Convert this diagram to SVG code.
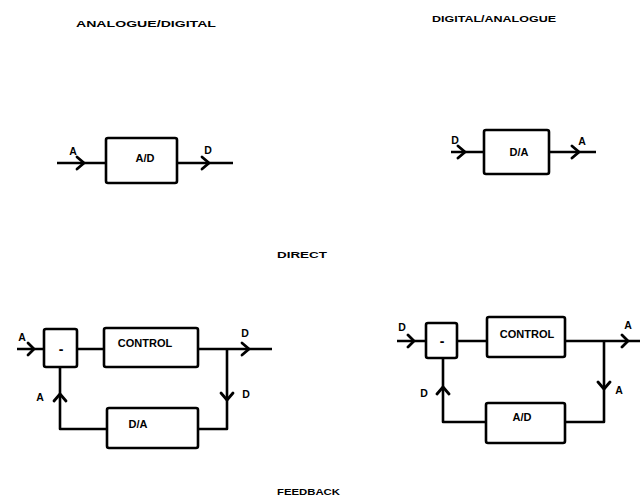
<svg xmlns="http://www.w3.org/2000/svg" width="644" height="500" viewBox="0 0 644 500">
<style>
.box{fill:#fff;stroke:#000;stroke-width:2.6}
.ln{fill:none;stroke:#000;stroke-width:2.6;stroke-linejoin:round}
.hd{fill:none;stroke:#000;stroke-width:2.8;stroke-linecap:round;stroke-linejoin:miter}
text{font-family:"Liberation Sans",Arial,sans-serif;font-weight:bold;fill:#000}
.t{font-size:11px}
.m{font-size:14px}
.l{font-size:10.5px}
.h{font-size:9.5px}
</style>
<rect width="644" height="500" fill="#fff"/>
<g id="titles">
<text class="h" x="76" y="27" textLength="140" lengthAdjust="spacingAndGlyphs">ANALOGUE/DIGITAL</text>
<text class="h" x="432" y="22" textLength="124" lengthAdjust="spacingAndGlyphs">DIGITAL/ANALOGUE</text>
<text class="h" x="277" y="258" textLength="50" lengthAdjust="spacingAndGlyphs">DIRECT</text>
<text class="h" x="277" y="495" textLength="63" lengthAdjust="spacingAndGlyphs">FEEDBACK</text>
</g>
<g id="connectors">
<path class="ln" d="M57,163 H106 M177,163 H233"/>
<path class="hd" d="M77,157 L84,163 L77,169 M202,157 L209,163 L202,169"/>
<path class="ln" d="M451,152 H484 M549,152 H596"/>
<path class="hd" d="M458,146 L465,152 L458,158 M572,146 L579,152 L572,158"/>
<path class="ln" d="M17,349 H44 M77,349 H104 M198,349 H272 M227,349 V429 H198 M107,429 H60 V367"/>
<path class="hd" d="M28,343 L34,349 L28,355 M242,343 L249,349 L242,355 M221,393 L227,400 L233,393 M54,401 L60,394 L66,401"/>
<path class="ln" d="M397,341 H426 M457,341 H487 M565,341 H640 M604,341 V422 H565 M486,422 H443 V358"/>
<path class="hd" d="M408,335 L414,341 L408,347 M622,335 L628,341 L622,347 M598,382 L604,389 L610,382 M437,394 L443,387 L449,394"/>
</g>
<g id="ad-direct">
<rect class="box" x="106" y="138" width="71" height="45" rx="2"/>
<text class="t" x="145" y="162" text-anchor="middle">A/D</text>
<text class="l" x="73" y="155" text-anchor="middle">A</text>
<text class="l" x="208" y="154" text-anchor="middle">D</text>
</g>
<g id="da-direct">
<rect class="box" x="484" y="130" width="65" height="44" rx="2"/>
<text class="t" x="519" y="156" text-anchor="middle">D/A</text>
<text class="l" x="455" y="144" text-anchor="middle">D</text>
<text class="l" x="582" y="145" text-anchor="middle">A</text>
</g>
<g id="fb-left-minus">
<rect class="box" x="44" y="329" width="33" height="38" rx="2"/>
<text class="m" x="61" y="354" text-anchor="middle">-</text>
<text class="l" x="22" y="341" text-anchor="middle">A</text>
</g>
<g id="fb-left-control">
<rect class="box" x="104" y="328" width="94" height="39" rx="2"/>
<text class="t" x="145" y="347" text-anchor="middle">CONTROL</text>
<text class="l" x="245" y="337" text-anchor="middle">D</text>
</g>
<g id="fb-left-da">
<rect class="box" x="107" y="408" width="91" height="40" rx="2"/>
<text class="t" x="138" y="428" text-anchor="middle">D/A</text>
<text class="l" x="246" y="398" text-anchor="middle">D</text>
<text class="l" x="40" y="401" text-anchor="middle">A</text>
</g>
<g id="fb-right-minus">
<rect class="box" x="426" y="323" width="31" height="35" rx="2"/>
<text class="m" x="442" y="346" text-anchor="middle">-</text>
<text class="l" x="402" y="331" text-anchor="middle">D</text>
</g>
<g id="fb-right-control">
<rect class="box" x="487" y="317" width="78" height="40" rx="2"/>
<text class="t" x="527" y="338" text-anchor="middle">CONTROL</text>
<text class="l" x="628" y="329" text-anchor="middle">A</text>
</g>
<g id="fb-right-ad">
<rect class="box" x="486" y="403" width="79" height="40" rx="2"/>
<text class="t" x="522" y="421" text-anchor="middle">A/D</text>
<text class="l" x="619" y="394" text-anchor="middle">A</text>
<text class="l" x="424" y="397" text-anchor="middle">D</text>
</g>
</svg>
